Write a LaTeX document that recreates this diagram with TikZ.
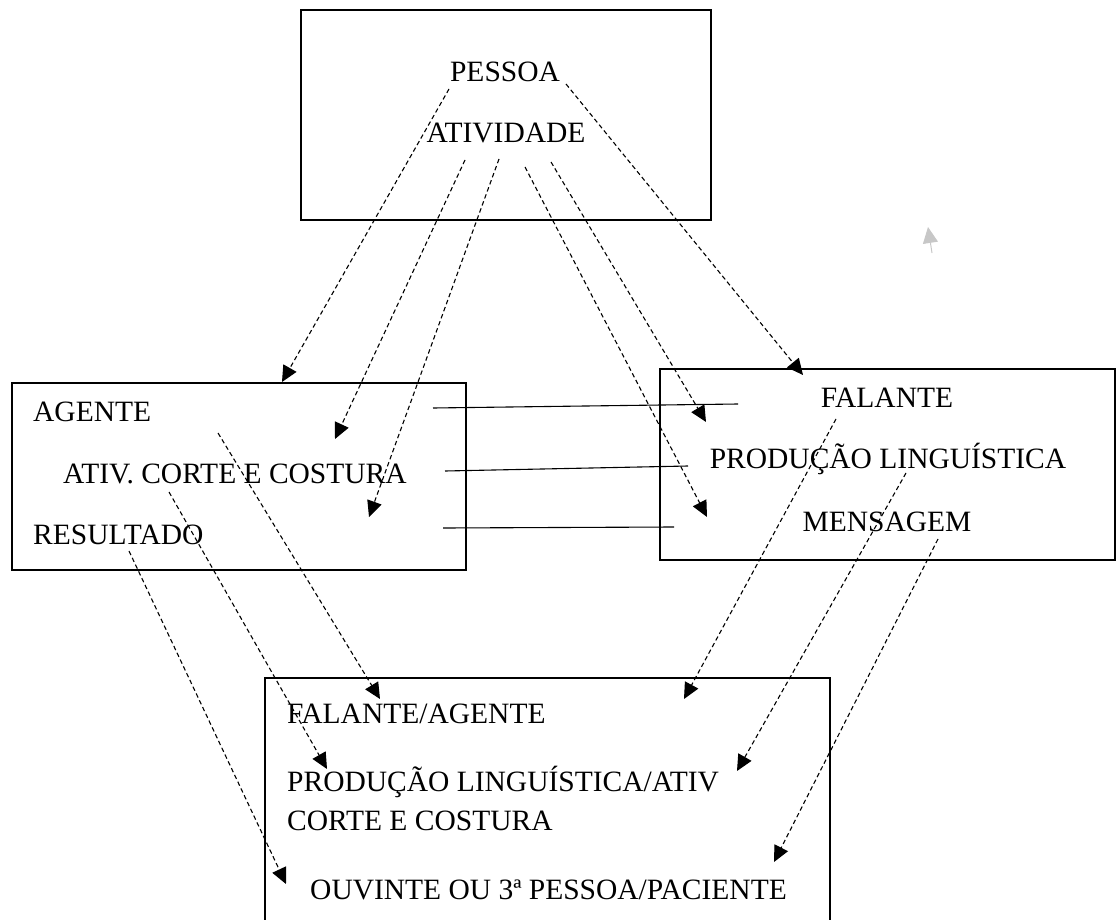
\documentclass[tikz,border=0pt]{standalone}
\usepackage{fontspec}
\setmainfont{Liberation Serif}
\usetikzlibrary{arrows.meta}
\begin{document}
\begin{tikzpicture}[x=1pt,y=-1pt,
  box/.style={draw,line width=2.4pt},
  lbl/.style={inner sep=0pt,anchor=base west,font=\fontsize{29.5}{34}\selectfont},
  lblc/.style={lbl,anchor=base},
  darr/.style={dash pattern=on 4.5pt off 3pt,line width=1.1pt,-{Triangle[length=16pt,width=15pt]}},
  sline/.style={line width=1.1pt}]
\useasboundingbox (0,0) rectangle (1116,920);
% boxes
\draw[box] (301,10) rectangle (711,220);
\draw[box] (12,383) rectangle (466,570);
\draw[box] (660,369) rectangle (1115,560);
\draw[box] (265,925) -- (265,678) -- (830,678) -- (830,925);
% texts
\node[lblc] (pessoa) at (505,82) {PESSOA};
\node[lblc] (atividade) at (506,143) {ATIVIDADE};
\node[lbl] (agente) at (33,421) {AGENTE};
\node[lbl] (ativ) at (63,483) {ATIV. CORTE E COSTURA};
\node[lbl] (resultado) at (33,544) {RESULTADO};
\node[lblc] (falante) at (887,407) {FALANTE};
\node[lblc] (producao) at (888,468) {PRODUÇÃO LINGUÍSTICA};
\node[lblc] (mensagem) at (887,531) {MENSAGEM};
\node[lbl] (falag) at (287,723) {FALANTE/AGENTE};
\node[lbl] (prodativ) at (287,791) {PRODUÇÃO LINGUÍSTICA/ATIV};
\node[lbl] (corte) at (287,830) {CORTE E COSTURA};
\node[lbl] (ouvinte) at (310,899) {OUVINTE OU 3ª PESSOA/PACIENTE};
% connector end points
\coordinate (t1) at (449,89);   \coordinate (h1) at (282,382);
\coordinate (t2) at (465,160);  \coordinate (h2) at (335,439);
\coordinate (t3) at (499,159);  \coordinate (h3) at (369,517);
\coordinate (t4) at (525,167);  \coordinate (h4) at (707,517);
\coordinate (t5) at (551,162);  \coordinate (h5) at (706,422);
\coordinate (t6) at (566,84);   \coordinate (h6) at (803,375);
\coordinate (a1) at (218,433);  \coordinate (b1) at (380,699);
\coordinate (a2) at (169,492);  \coordinate (b2) at (327,769);
\coordinate (a3) at (129,551);  \coordinate (b3) at (286,884);
\coordinate (a4) at (836,419);  \coordinate (b4) at (684,699);
\coordinate (a5) at (906,473);  \coordinate (b5) at (737,771);
\coordinate (a6) at (938,539);  \coordinate (b6) at (774,862);
\coordinate (s1) at (433,408);  \coordinate (e1) at (738,404);
\coordinate (s2) at (445,471);  \coordinate (e2) at (688,466);
\coordinate (s3) at (443,528);  \coordinate (e3) at (674,527);
\coordinate (g1) at (932,253);  \coordinate (g2) at (928,227);
% solid lines
\draw[sline] (s1) -- (e1);
\draw[sline] (s2) -- (e2);
\draw[sline] (s3) -- (e3);
% dashed arrows
\foreach \i in {1,...,6} {\draw[darr] (t\i) -- (h\i);}
\foreach \i in {1,...,6} {\draw[darr] (a\i) -- (b\i);}
% faint arrow
\draw[black!22,line width=1pt,-{Triangle[length=16pt,width=15pt]}] (g1) -- (g2);
\end{tikzpicture}
\end{document}
